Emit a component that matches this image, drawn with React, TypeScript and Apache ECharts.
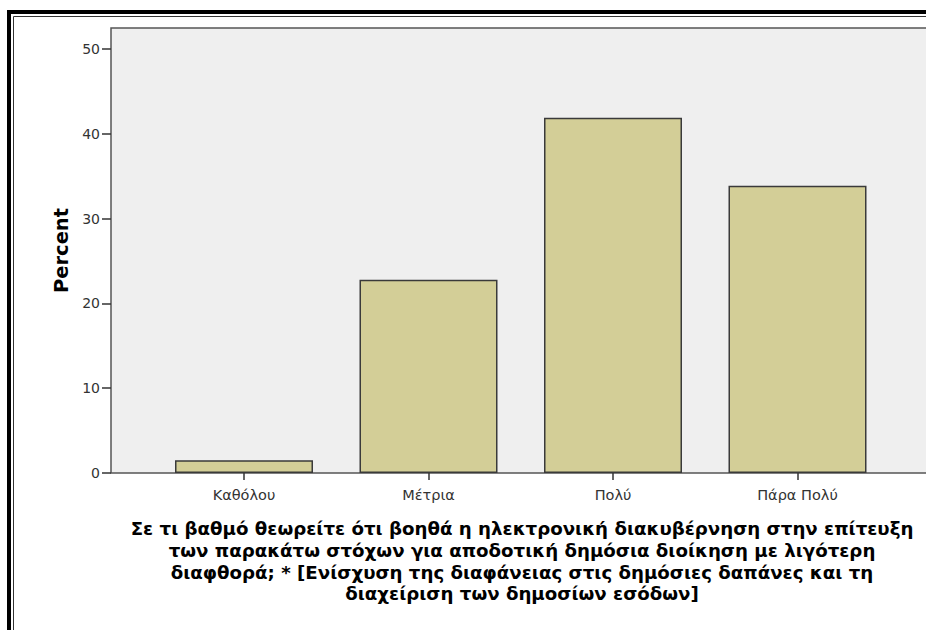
import React, { useEffect, useRef } from "react";
import * as echarts from "echarts";

const categories: string[] = ["Καθόλου", "Μέτρια", "Πολύ", "Πάρα Πολύ"];
const percentValues: number[] = [1.5, 22.8, 41.9, 33.9];
const yTicks = { min: 0, max: 52.5, interval: 10 };
const titleLines: string[] = [
  "Σε τι βαθμό θεωρείτε ότι βοηθά η ηλεκτρονική διακυβέρνηση στην επίτευξη",
  "των παρακάτω στόχων για αποδοτική δημόσια διοίκηση με λιγότερη",
  "διαφθορά; * [Ενίσχυση της διαφάνειας στις δημόσιες δαπάνες και τη",
  "διαχείριση των δημοσίων εσόδων]",
];
const yAxisName = "Percent";

export default function App() {
  const ref = useRef<HTMLDivElement>(null);
  useEffect(() => {
    document.body.style.margin = "0";
    document.body.style.overflow = "hidden";
    if (!ref.current) return;
    const chart = echarts.init(ref.current, null, { renderer: "svg" });
    const font = "DejaVu Sans";
    const plotTop = 28;
    const plotHeight = 445;
    chart.setOption({
      animation: false,
      backgroundColor: "#ffffff",
      textStyle: { fontFamily: font },
      grid: [
        {
          left: 111,
          top: plotTop,
          width: 820,
          height: plotHeight,
          show: true,
          backgroundColor: "#efefef",
          borderColor: "#555555",
          borderWidth: 1.5,
        },
        {
          left: 151.75,
          top: plotTop,
          width: 738,
          height: plotHeight,
          show: false,
        },
      ],
      xAxis: [
        { type: "value", gridIndex: 0, show: false, min: 0, max: 1 },
        {
          type: "category",
          gridIndex: 1,
          data: categories,
          axisLine: { show: false },
          axisTick: {
            show: true,
            alignWithLabel: true,
            length: 7,
            lineStyle: { color: "#333333", width: 1.5 },
          },
          axisLabel: {
            fontSize: 14.5,
            color: "#333333",
            margin: 14,
            fontFamily: font,
          },
        },
      ],
      yAxis: [
        {
          type: "value",
          gridIndex: 0,
          min: yTicks.min,
          max: yTicks.max,
          interval: yTicks.interval,
          axisLine: { show: false },
          axisTick: {
            show: true,
            length: 9,
            lineStyle: { color: "#333333", width: 1.5 },
          },
          axisLabel: {
            fontSize: 14,
            color: "#333333",
            margin: 11,
            fontFamily: font,
            showMaxLabel: false,
            formatter: (v: number) => (v % 10 === 0 ? String(v) : ""),
          },
          splitLine: { show: false },
          name: yAxisName,
          nameLocation: "middle",
          nameGap: 38,
          nameTextStyle: {
            fontSize: 19.5,
            fontWeight: "bold",
            color: "#000000",
            fontFamily: font,
          },
        },
        {
          type: "value",
          gridIndex: 1,
          min: yTicks.min,
          max: yTicks.max,
          show: false,
        },
      ],
      title: {
        text: titleLines.join("\n"),
        left: 517,
        top: 513,
        textAlign: "center",
        textStyle: {
          fontSize: 18.2,
          fontWeight: "bold",
          color: "#000000",
          lineHeight: 21.7,
          fontFamily: font,
          align: "center",
        },
      },
      graphic: [
        {
          type: "rect",
          shape: { x: 9, y: 12, width: 1000, height: 1000 },
          style: { fill: "none", stroke: "#000000", lineWidth: 4 },
          silent: true,
        },
        {
          type: "rect",
          shape: { x: 13.5, y: 16.5, width: 1000, height: 1000 },
          style: { fill: "none", stroke: "#333333", lineWidth: 1 },
          silent: true,
        },
      ],
      series: [
        {
          type: "bar",
          xAxisIndex: 1,
          yAxisIndex: 1,
          data: percentValues,
          barWidth: 138,
          itemStyle: {
            color: "#d3ce97",
            borderColor: "#3a3a3a",
            borderWidth: 1.5,
          },
        },
      ],
    });
    return () => chart.dispose();
  }, []);
  return (
    <div
      style={{
        position: "fixed",
        left: 0,
        top: 0,
        width: 926,
        height: 630,
        overflow: "hidden",
        background: "#fff",
      }}
    >
      <div ref={ref} style={{ width: 1000, height: 700 }} />
    </div>
  );
}
